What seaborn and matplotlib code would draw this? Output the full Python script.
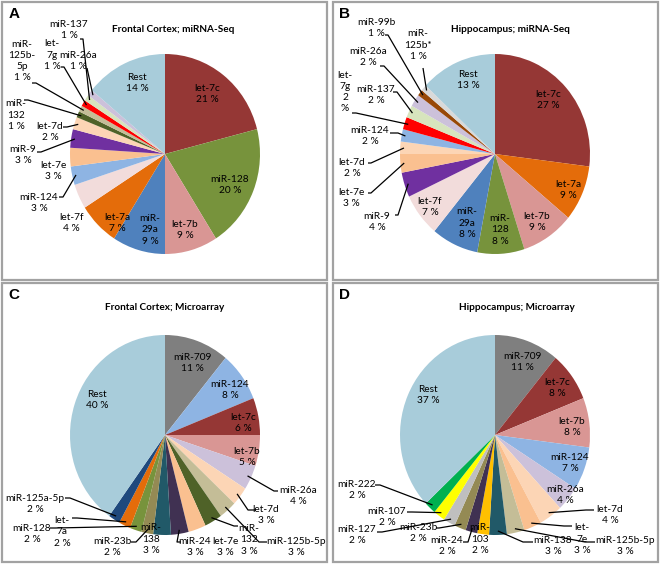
import matplotlib
matplotlib.use("Agg")
import numpy as np
import matplotlib.pyplot as plt
import seaborn as sns
from matplotlib.patches import Rectangle

sns.set_theme(style="white")
plt.rcParams['font.family'] = ['Lato', 'DejaVu Sans']

# ---- data (percent of reads / signal), clockwise from 12 o'clock ----
a_names = ['let-7c', 'miR-128', 'let-7b', 'miR-29a', 'let-7a', 'let-7f', 'miR-124', 'let-7e',
           'miR-9', 'let-7d', 'miR-132', 'miR-125b-5p', 'let-7g', 'miR-137', 'miR-26a', 'Rest']
a_values = [21, 20, 9, 9, 7, 4, 3, 3, 3, 2, 1, 1, 1, 1, 1, 14]

b_names = ['let-7c', 'let-7a', 'let-7b', 'miR-128', 'miR-29a', 'let-7f', 'miR-9', 'let-7e',
           'let-7d', 'miR-124', 'let-7g', 'miR-137', 'miR-26a', 'miR-99b', 'miR-125b*', 'Rest']
b_values = [27, 9, 9, 8, 8, 7, 4, 3, 2, 2, 2, 2, 2, 1, 1, 13]

c_names = ['miR-709', 'miR-124', 'let-7c', 'let-7b', 'miR-26a', 'let-7d', 'miR-125b-5p', 'miR-132',
           'let-7e', 'miR-24', 'miR-138', 'miR-23b', 'miR-128', 'let-7a', 'miR-125a-5p', 'Rest']
c_values = [11, 8, 6, 5, 4, 3, 3, 3, 3, 3, 3, 2, 2, 2, 2, 40]

d_names = ['miR-709', 'let-7c', 'let-7b', 'miR-124', 'miR-26a', 'let-7d', 'let-7e', 'miR-125b-5p',
           'miR-138', 'miR-103', 'miR-24', 'miR-23b', 'miR-127', 'miR-107', 'miR-222', 'Rest']
d_values = [11, 8, 8, 7, 4, 4, 3, 3, 3, 2, 2, 2, 2, 2, 2, 37]

colors = {
    'let-7c': '#953735', 'miR-128': '#77933C', 'let-7b': '#D99694', 'miR-29a': '#4F81BD',
    'let-7a': '#E46C0A', 'let-7f': '#F2DCDB', 'miR-124': '#8EB4E3', 'let-7e': '#FAC090',
    'miR-9': '#7030A0', 'let-7d': '#FCD5B5', 'miR-132': '#4F6228', 'miR-125b-5p': '#C4BD97',
    'let-7g': '#FF0000', 'miR-137': '#D7E4BD', 'miR-26a': '#CCC1DA', 'miR-99b': '#984807',
    'miR-125b*': '#D9D9D9', 'miR-709': '#7F7F7F', 'miR-24': '#403152', 'miR-138': '#215968',
    'miR-23b': '#948A54', 'miR-125a-5p': '#1F497D', 'miR-103': '#FFC000', 'miR-127': '#BFBFBF',
    'miR-107': '#FFFF00', 'miR-222': '#00B050', 'Rest': '#A8CCDA',
}

# ---- layout (pixels) ----
W, H = 662, 567
RX, RY = 95, 100

# label placement: name -> (text x, text y, leader start or None, stub)
a_labels = {
    'let-7c': (207, 94, None, 0), 'miR-128': (230, 185, None, 0), 'let-7b': (185, 230, None, 0),
    'miR-29a': (150, 230, None, 0), 'let-7a': (117, 223, None, 0), 'Rest': (137, 83, None, 0),
    'let-7f': (71, 223, None, 0), 'let-7e': (53, 171, None, 0),
    'miR-124': (39, 203, (59, 197), 4), 'miR-9': (23, 155, (37, 152), 4),
    'let-7d': (50, 132, (63, 127), 4), 'miR-132': (16, 115, (24, 100), 4),
    'miR-125b-5p': (22, 61, (32, 83), 4), 'let-7g': (52, 55, (61, 67), 3),
    'miR-137': (69, 30, (80, 39), 3), 'miR-26a': (78, 61, (87, 68), 0),
}
b_labels = {
    'Rest': (468, 80, None, 0), 'let-7c': (548, 100, None, 0), 'let-7a': (568, 190, None, 0),
    'let-7b': (537, 222, None, 0), 'miR-128': (500, 230, None, 0), 'miR-29a': (467, 223, None, 0),
    'let-7f': (430, 207, None, 0),
    'miR-9': (377, 222, (395, 215), 3), 'let-7e': (351, 198, (368, 193), 3),
    'let-7d': (352, 168, (368, 163), 3), 'miR-124': (370, 136, (390, 133), 8),
    'let-7g': (345, 92, (352, 113), 4), 'miR-137': (376, 95, (393, 92), 4),
    'miR-26a': (368, 57, (380, 66), 4), 'miR-99b': (376, 28, (385, 35), 3),
    'miR-125b*': (418, 45, (423, 68), 0),
}
c_labels = {
    'Rest': (97, 400, None, 0), 'miR-709': (192, 363, None, 0), 'miR-124': (230, 390, None, 0),
    'let-7c': (243, 423, None, 0), 'let-7b': (247, 457, None, 0), 'miR-138': (151, 539, None, 0),
    'let-7e': (225, 547, None, 0),
    'miR-26a': (298, 496, (278, 491), -4), 'let-7d': (266, 515, (256, 510), -8),
    'miR-132': (249, 540, (238, 526), -4), 'miR-125b-5p': (296, 547, (267, 542), -8),
    'miR-24': (195, 547, (181, 542), -4), 'miR-23b': (112, 547, (131, 542), 5),
    'miR-128': (32, 534, (50, 528), 5), 'let-7a': (62, 532, (72, 518), 5),
    'miR-125a-5p': (35, 504, (65, 498), 5),
}
d_labels = {
    'Rest': (428, 395, None, 0), 'miR-709': (522, 362, None, 0), 'let-7c': (557, 388, None, 0),
    'let-7b': (572, 427, None, 0), 'miR-124': (570, 463, None, 0), 'miR-26a': (565, 495, None, 0),
    'miR-103': (480, 539, None, 0),
    'let-7d': (610, 515, (594, 510), -8), 'let-7e': (582, 539, (572, 526), -8),
    'miR-125b-5p': (625, 546, (595, 542), -10), 'miR-138': (553, 546, (533, 542), -10),
    'miR-24': (447, 546, (463, 542), 5), 'miR-23b': (418, 533, (436, 528), 3),
    'miR-127': (357, 535, (377, 532), 5), 'miR-107': (387, 517, (407, 512), 5),
    'miR-222': (357, 490, (375, 485), 5),
}
# names that Excel wrapped onto several lines
wraps = {
    'A': {'miR-29a': 'miR-\n29a', 'miR-132': 'miR-\n132', 'miR-125b-5p': 'miR-\n125b-\n5p',
          'let-7g': 'let-\n7g'},
    'B': {'miR-128': 'miR-\n128', 'miR-29a': 'miR-\n29a', 'let-7g': 'let-\n7g\n2\n%',
          'miR-125b*': 'miR-\n125b*'},
    'C': {'miR-138': 'miR-\n138', 'miR-132': 'miR-\n132', 'let-7a': 'let-\n7a'},
    'D': {'miR-103': 'miR-\n103', 'let-7e': 'let-\n7e'},
}

panels = [
    ('A', 'Frontal Cortex; miRNA-Seq', a_names, a_values, a_labels, (2, 2), (165, 154), (173, 30)),
    ('B', 'Hippocampus; miRNA-Seq', b_names, b_values, b_labels, (333, 2), (495, 154), (510, 30)),
    ('C', 'Frontal Cortex; Microarray', c_names, c_values, c_labels, (2, 283), (165, 435), (165, 308)),
    ('D', 'Hippocampus; Microarray', d_names, d_values, d_labels, (333, 283), (495, 435), (517, 307)),
]

fig = plt.figure(figsize=(W / 100, H / 100), dpi=100)
fig.patch.set_facecolor('white')
over = fig.add_axes([0, 0, 1, 1], zorder=3)
over.set_xlim(0, W)
over.set_ylim(H, 0)
over.axis('off')
over.patch.set_alpha(0)

for letter, title, names, values, labels, (bx, by), (cx, cy), (tx, ty) in panels:
    over.add_patch(Rectangle((bx, by), 325, 278 if by < 100 else 279, fill=False,
                             ec='#a2a2a2', lw=1.6))
    over.text(bx + 12, by + 12, letter, fontsize=11, fontweight='bold',
              family='Liberation Sans', ha='center', va='center', color='black')
    over.text(tx, ty, title, fontsize=7.2, fontweight='bold', ha='center', va='center',
              color='black')

    ax = fig.add_axes([(cx - RX) / W, (H - cy - RY) / H, 2 * RX / W, 2 * RY / H], zorder=1)
    wedges, _ = ax.pie(values, colors=[colors[n] for n in names], startangle=90,
                       counterclock=False, radius=1, wedgeprops=dict(linewidth=0))
    ax.set_xlim(-1, 1)
    ax.set_ylim(-1, 1)
    ax.set_aspect('auto')
    ax.axis('off')

    for w, name, v in zip(wedges, names, values):
        x, y, start, stub = labels[name]
        txt = wraps[letter].get(name, name)
        if not txt.endswith('%'):
            txt = f'{txt}\n{v} %'
        over.text(x, y, txt, fontsize=7.3, ha='center', va='center', color='black',
                  linespacing=1.3)
        if start is not None:
            t = np.deg2rad((w.theta1 + w.theta2) / 2)
            ex, ey = cx + 0.96 * RX * np.cos(t), cy - 0.96 * RY * np.sin(t)
            sx, sy = start
            over.plot([sx, sx + stub, ex], [sy, sy, ey], color='black', lw=0.9,
                      solid_capstyle='butt')

plt.savefig('out.png', dpi=100, facecolor='white')
